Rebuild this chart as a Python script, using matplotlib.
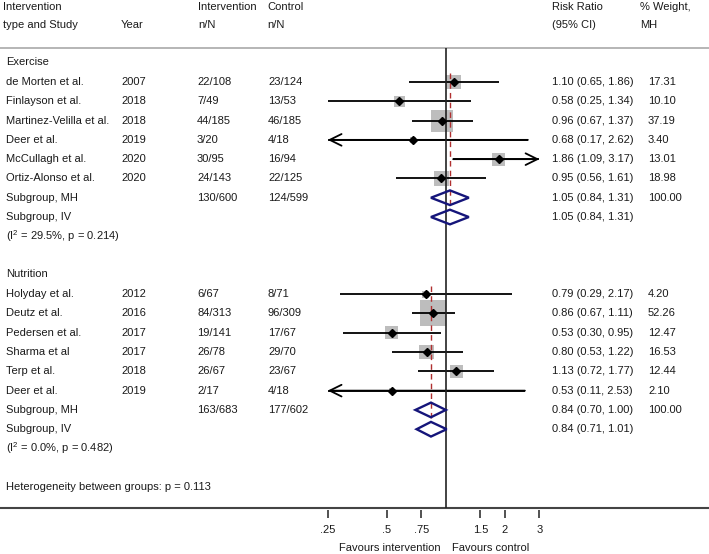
import matplotlib
matplotlib.use("Agg")
import matplotlib.pyplot as plt
import numpy as np

plt.rcParams['font.family'] = ['Liberation Sans', 'DejaVu Sans']
plt.rcParams['mathtext.fontset'] = 'custom'
plt.rcParams['mathtext.rm'] = 'Liberation Sans'
plt.rcParams['mathtext.it'] = 'Liberation Sans:italic'

# ---------------- data ----------------
ex_study = ["de Morten et al.", "Finlayson et al.", "Martinez-Velilla et al.",
            "Deer et al.", "McCullagh et al.", "Ortiz-Alonso et al."]
ex_year = ["2007", "2018", "2018", "2019", "2020", "2020"]
ex_int = ["22/108", "7/49", "44/185", "3/20", "30/95", "24/143"]
ex_ctl = ["23/124", "13/53", "46/185", "4/18", "16/94", "22/125"]
ex_rr = [1.10, 0.58, 0.96, 0.68, 1.86, 0.95]
ex_lo = [0.65, 0.25, 0.67, 0.17, 1.09, 0.56]
ex_hi = [1.86, 1.34, 1.37, 2.62, 3.17, 1.61]
ex_w = [17.31, 10.10, 37.19, 3.40, 13.01, 18.98]
ex_mh = (1.05, 0.84, 1.31)
ex_iv = (1.05, 0.84, 1.31)
ex_tot = ("130/600", "124/599")
ex_het = "(I$^2$ = 29.5%, p = 0.214)"

nu_study = ["Holyday et al.", "Deutz et al.", "Pedersen et al.",
            "Sharma et al", "Terp et al.", "Deer et al."]
nu_year = ["2012", "2016", "2017", "2017", "2018", "2019"]
nu_int = ["6/67", "84/313", "19/141", "26/78", "26/67", "2/17"]
nu_ctl = ["8/71", "96/309", "17/67", "29/70", "23/67", "4/18"]
nu_rr = [0.79, 0.86, 0.53, 0.80, 1.13, 0.53]
nu_lo = [0.29, 0.67, 0.30, 0.53, 0.72, 0.11]
nu_hi = [2.17, 1.11, 0.95, 1.22, 1.77, 2.53]
nu_w = [4.20, 52.26, 12.47, 16.53, 12.44, 2.10]
nu_mh = (0.84, 0.70, 1.00)
nu_iv = (0.84, 0.71, 1.01)
nu_tot = ("163/683", "177/602")
nu_het = "(I$^2$ = 0.0%, p = 0.482)"

between_text = "Heterogeneity between groups: p = 0.113"
hdr1 = ["Intervention", "Intervention", "Control", "Risk Ratio", "% Weight,"]
hdr2 = ["type and Study", "Year", "n/N", "n/N", "(95% CI)", "MH"]
tick_vals = [0.25, 0.5, 0.75, 1.5, 2, 3]
tick_labels = [".25", ".5", ".75", "1.5", "2", "3"]
x_clip = (0.25, 3.0)

# ---------------- layout ----------------
W, H = 709, 554
fig = plt.figure(figsize=(W / 100, H / 100), dpi=100)
ax = fig.add_axes([0, 0, 1, 1])
ax.set_xscale('log')
px_per_ln = 85.2
x0px, x0val = 327.7, 0.25
ax.set_xlim(np.exp(np.log(x0val) - x0px / px_per_ln),
            np.exp(np.log(x0val) + (W - x0px) / px_per_ln))
row_px = 19.29
y1px = 82.0
ax.set_ylim(1 + (H - y1px) / row_px, 1 - y1px / row_px)
ax.axis('off')

def rowof(py):
    return 1 + (py - y1px) / row_px

tr = ax.get_yaxis_transform()  # x axes-fraction, y data
def fx(px):
    return px / W

FS = 8
TC = '#1a1a1a'
def txt(px, row, s, **kw):
    ax.text(fx(px), row, s, transform=tr, fontsize=FS, color=TC,
            va='center', ha='left', **kw)

# header
h1, h2 = rowof(6.5), rowof(25.5)
for px, s in zip([3, 198, 267, 552, 640], hdr1):
    txt(px, h1, s)
for px, s in zip([3, 121, 198, 267, 552, 640], hdr2):
    txt(px, h2, s)

top_line = rowof(47.5)
axis_line = rowof(508)
ax.axhline(top_line, color='#b5b5b5', lw=1.4)
ax.axhline(axis_line, color='#444444', lw=1.5)
ax.vlines(1.0, top_line, axis_line, color='#222222', lw=1.2, zorder=4)

def fmt_ci(r, l, h):
    return f"{r:.2f} ({l:.2f}, {h:.2f})"

def draw_group(start, name, study, year, ni, nc, rr, lo, hi, w, mh, iv, tot, het):
    txt(6, start - 0.04, name)
    for k in range(len(study)):
        r = start + 1 + k
        txt(6, r, study[k]); txt(121, r, year[k]); txt(197, r, ni[k])
        txt(268, r, nc[k]); txt(552, r, fmt_ci(rr[k], lo[k], hi[k]))
        txt(648, r, f"{w[k]:.2f}")
        side_pt = 3.6 * np.sqrt(w[k]) * 0.72
        ax.scatter([rr[k]], [r], marker='s', s=side_pt ** 2, color='#bdbdbd',
                   edgecolors='none', zorder=2)
        a = max(lo[k], x_clip[0]); b = min(hi[k], x_clip[1])
        ax.plot([a, b], [r, r], color='black', lw=1.3, zorder=3,
                solid_capstyle='butt')
        aprops = dict(arrowstyle='->,head_length=0.85,head_width=0.42',
                      lw=1.3, color='black', shrinkA=0, shrinkB=0,
                      mutation_scale=10)
        if lo[k] < x_clip[0]:
            ax.annotate('', xy=(x_clip[0], r), xytext=(b, r),
                        arrowprops=aprops, zorder=3)
        if hi[k] > x_clip[1]:
            ax.annotate('', xy=(x_clip[1], r), xytext=(a, r),
                        arrowprops=aprops, zorder=3)
        ax.plot([rr[k]], [r], marker='D', ms=3.6, color='black', zorder=5)
    rmh = start + 1 + len(study)
    txt(6, rmh, "Subgroup, MH"); txt(197, rmh, tot[0]); txt(268, rmh, tot[1])
    txt(552, rmh, fmt_ci(*mh)); txt(648, rmh, "100.00")
    txt(6, rmh + 1, "Subgroup, IV"); txt(552, rmh + 1, fmt_ci(*iv))
    txt(6, rmh + 2, het)
    hh = 0.38
    for rr_, (c, l, h) in ((rmh, mh), (rmh + 1, iv)):
        ax.fill([l, c, h, c, l], [rr_, rr_ - hh, rr_, rr_ + hh, rr_],
                facecolor='none', edgecolor='#15157a', lw=1.7, zorder=6)
    ax.vlines(mh[0], start + 1 - 0.45, rmh + 0.58, color='#b03030', lw=1.0,
              linestyles=(0, (4, 3)), zorder=4)

draw_group(0, "Exercise", ex_study, ex_year, ex_int, ex_ctl, ex_rr, ex_lo,
           ex_hi, ex_w, ex_mh, ex_iv, ex_tot, ex_het)
draw_group(11, "Nutrition", nu_study, nu_year, nu_int, nu_ctl, nu_rr, nu_lo,
           nu_hi, nu_w, nu_mh, nu_iv, nu_tot, nu_het)
txt(6, 22, between_text)

# x axis ticks
ax.vlines(tick_vals, rowof(510), rowof(518), color='#333333', lw=1.2)
for v, s in zip(tick_vals, tick_labels):
    ax.text(v, rowof(530), s, fontsize=FS, color=TC, ha='center', va='center')
ax.text(0.94, rowof(548), "Favours intervention", fontsize=FS, color=TC,
        ha='right', va='center')
ax.text(1.07, rowof(548), "Favours control", fontsize=FS, color=TC,
        ha='left', va='center')

fig.savefig("out.png", dpi=100)
